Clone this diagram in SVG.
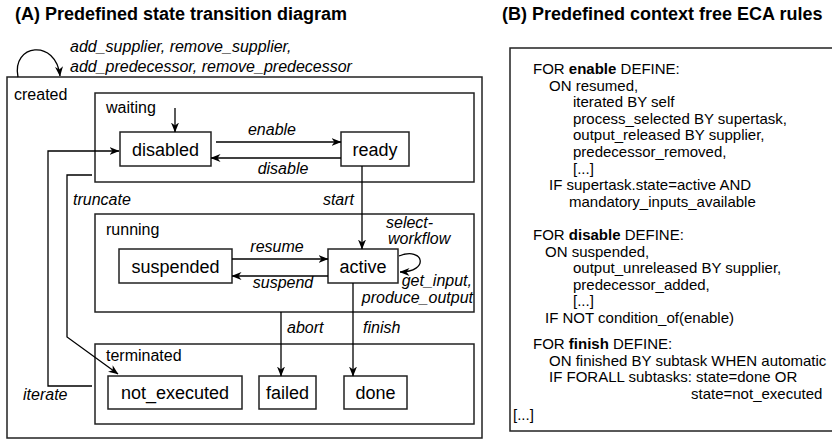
<svg xmlns="http://www.w3.org/2000/svg" width="832" height="440" viewBox="0 0 832 440">
<style>
.title{font-family:"Liberation Sans",Arial,sans-serif;font-weight:bold;font-size:18px;fill:#000}
.box{fill:#fff;stroke:#222;stroke-width:1.5}
.cont{fill:none;stroke:#222;stroke-width:1.5}
.nl{font-family:"Liberation Sans",Arial,sans-serif;font-size:18px;fill:#000;text-anchor:middle}
.sl{font-family:"Liberation Sans",Arial,sans-serif;font-size:16px;fill:#000}
.el{font-family:"Liberation Sans",Arial,sans-serif;font-size:16px;font-style:italic;fill:#000}
.edge{fill:none;stroke:#000;stroke-width:1.3;marker-end:url(#arr)}
.rt{font-family:"Liberation Sans",Arial,sans-serif;font-size:15px;fill:#000}
</style>
<defs>
<marker id="arr" viewBox="0 0 10 8" refX="9.5" refY="4" markerWidth="10" markerHeight="8" markerUnits="userSpaceOnUse" orient="auto">
<path d="M0,0 L10,4 L0,8 L3,4 z" fill="#000"/>
</marker>
</defs>

<text class="title" x="15" y="20">(A) Predefined state transition diagram</text>
<text class="title" x="502" y="20">(B) Predefined context free ECA rules</text>

<g id="created">
<rect class="cont" x="7" y="77" width="475" height="361"/>
<text class="sl" x="14" y="100">created</text>
</g>
<g id="waiting">
<rect class="cont" x="95" y="93" width="379" height="89"/>
<text class="sl" x="106" y="113">waiting</text>
</g>
<g id="running">
<rect class="cont" x="95" y="214" width="379" height="98"/>
<text class="sl" x="106" y="235">running</text>
</g>
<g id="terminated">
<rect class="cont" x="95" y="344" width="379" height="80"/>
<text class="sl" x="106" y="361">terminated</text>
</g>

<g id="disabled"><rect class="box" x="120" y="132" width="91" height="34"/><text class="nl" x="165.5" y="155.5">disabled</text></g>
<g id="ready"><rect class="box" x="341" y="132" width="68" height="34"/><text class="nl" x="375" y="155.5">ready</text></g>
<g id="suspended"><rect class="box" x="119" y="249" width="113" height="34"/><text class="nl" x="175.5" y="272.5">suspended</text></g>
<g id="active"><rect class="box" x="328" y="249" width="70" height="34"/><text class="nl" x="363" y="272.5">active</text></g>
<g id="not_executed"><rect class="box" x="108" y="376" width="134" height="33"/><text class="nl" x="175" y="399">not_executed</text></g>
<g id="failed"><rect class="box" x="259" y="376" width="57" height="33"/><text class="nl" x="287.5" y="399">failed</text></g>
<g id="done"><rect class="box" x="344" y="376" width="63" height="33"/><text class="nl" x="375.5" y="399">done</text></g>

<g id="connectors">
<path class="edge" d="M18,77 C11,44 56,38 60,76"/>
<path class="edge" d="M175,108 L175,132"/>
<path class="edge" d="M216,142 L341,142"/>
<path class="edge" d="M341,158 L211,158"/>
<path class="edge" d="M362,166 L362,249"/>
<path class="edge" d="M232,259 L328,259"/>
<path class="edge" d="M328,276 L232,276"/>
<path class="edge" d="M399,256 C424,246 430,272 400,272"/>
<path class="edge" d="M281,312 L281,376"/>
<path class="edge" d="M353,283 L353,376"/>
<path class="edge" d="M92,175 L67,175 L67,337 L118,374"/>
<path class="edge" d="M92,386 L48,386 L48,151 L119,151"/>
<text class="el" x="70" y="52">add_supplier, remove_supplier,</text>
<text class="el" x="70" y="72">add_predecessor, remove_predecessor</text>
<text class="el" x="272" y="135" text-anchor="middle">enable</text>
<text class="el" x="283" y="174" text-anchor="middle">disable</text>
<text class="el" x="354" y="205" text-anchor="end">start</text>
<text class="el" x="73" y="205">truncate</text>
<text class="el" x="277" y="252" text-anchor="middle">resume</text>
<text class="el" x="283" y="288" text-anchor="middle">suspend</text>
<text class="el" x="386" y="228">select-</text>
<text class="el" x="388" y="244">workflow</text>
<text class="el" x="472" y="286" text-anchor="end">get_input,</text>
<text class="el" x="473" y="302.5" text-anchor="end">produce_output</text>
<text class="el" x="287" y="333">abort</text>
<text class="el" x="363" y="333">finish</text>
<text class="el" x="23" y="400">iterate</text>
</g>

<g id="eca-rules">
<rect class="cont" x="510" y="48" width="340" height="383"/>
<text class="rt" x="533" y="74">FOR <tspan font-weight="bold">enable</tspan> DEFINE:</text>
<text class="rt" x="549" y="90.6">ON resumed,</text>
<text class="rt" x="573" y="107.2">iterated BY self</text>
<text class="rt" x="573" y="123.8">process_selected BY supertask,</text>
<text class="rt" x="573" y="140.4">output_released BY supplier,</text>
<text class="rt" x="573" y="157">predecessor_removed,</text>
<text class="rt" x="573" y="173.6">[...]</text>
<text class="rt" x="549" y="190.2">IF supertask.state=active AND</text>
<text class="rt" x="569" y="206.8">mandatory_inputs_available</text>
<text class="rt" x="533" y="240">FOR <tspan font-weight="bold">disable</tspan> DEFINE:</text>
<text class="rt" x="545" y="256.6">ON suspended,</text>
<text class="rt" x="573" y="273.2">output_unreleased BY supplier,</text>
<text class="rt" x="573" y="289.8">predecessor_added,</text>
<text class="rt" x="573" y="306.4">[...]</text>
<text class="rt" x="545" y="323">IF NOT condition_of(enable)</text>
<text class="rt" x="533" y="349">FOR <tspan font-weight="bold">finish</tspan> DEFINE:</text>
<text class="rt" x="549" y="365.6">ON finished BY subtask WHEN automatic</text>
<text class="rt" x="549" y="382.2">IF FORALL subtasks: state=done OR</text>
<text class="rt" x="691" y="398.8">state=not_executed</text>
<text class="rt" x="513" y="420">[...]</text>
</g>
</svg>
